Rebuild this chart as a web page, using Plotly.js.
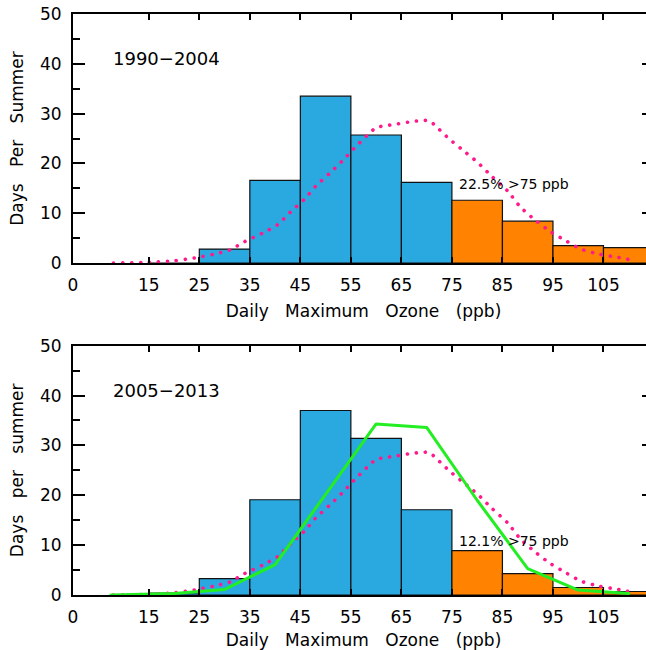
<!DOCTYPE html>
<html>
<head>
<meta charset="utf-8">
<script src="https://cdn.plot.ly/plotly-3.0.1.min.js"></script>
<style>
  html, body { margin: 0; padding: 0; overflow: hidden; background: #fff; }
  #chart { width: 654px; height: 650px; }
  text.xtitle, text.x2title, text.ytitle, text.y2title { word-spacing: 11px; }
  path.js-line { stroke-linecap: round; stroke-linejoin: round; }
</style>
</head>
<body>
<div id="chart"></div>
<script>
// ---- data ----
const binCenters = [20, 30, 40, 50, 60, 70, 80, 90, 100, 110];   // 10 ppb bins (15-25 ... 105-115)
const binWidth = 10;
const threshold = 75;
const days1990_2004 = [0, 2.8, 16.6, 33.5, 25.7, 16.2, 12.6, 8.4, 3.5, 3.1];
const days2005_2013 = [0.4, 3.3, 19.1, 37.0, 31.4, 17.1, 8.9, 4.3, 1.5, 0.7];

// dotted magenta reference curve (same in both panels)
const curveX = [8, 15, 20, 24, 28, 31, 34, 37.5, 40.5, 43, 46, 48, 51, 53.5, 56, 58.5, 60, 62, 63.5, 67, 69, 70.5, 72, 74.5, 77, 80, 83, 86, 88.5, 91.5, 94.5, 97.5, 100.5, 104, 108, 110];
const curveY = [0, 0.13, 0.45, 1.0, 1.8, 2.6, 4.3, 6.0, 7.7, 10.2, 13.0, 15.4, 18.2, 20.7, 23.4, 25.9, 27.2, 27.6, 27.8, 28.4, 28.6, 28.6, 27.3, 24.9, 22.8, 20.3, 17.3, 14.5, 11.3, 8.6, 6.3, 4.5, 2.8, 1.8, 1.1, 0.7];

// green line (bottom panel)
const greenX = [7.5, 20, 30, 40, 50, 60, 70, 80, 90, 100, 110];
const greenY = [0, 0.3, 1.1, 6.1, 20.2, 34.3, 33.6, 19.0, 5.3, 1.0, 0.3];

const xTickVals = [0, 15, 25, 35, 45, 55, 65, 75, 85, 95, 105];
const xTickText = ['0', '15', '25', '35', '45', '55', '65', '75', '85', '95', '105'];

const panels = [
  {label: '1990\u22122004', ytitle: 'Days Per Summer', pct: '22.5% >75 ppb', days: days1990_2004, green: false},
  {label: '2005\u22122013', ytitle: 'Days per summer', pct: '12.1% >75 ppb', days: days2005_2013, green: true}
];

// ---- styling ----
const FONT = 'DejaVu Sans, Arial, sans-serif';
const BLUE = '#2aa9e1';
const ORANGE = '#ff8200';
const PINK = '#ff1a8c';
const GREEN = '#22ee22';

const traces = [];
const annotations = [];
const layout = {
  width: 654, height: 650,
  margin: {l: 73, r: 0, t: 14, b: 55},
  paper_bgcolor: '#fff', plot_bgcolor: '#fff',
  showlegend: false,
  barmode: 'overlay',
  bargap: 0,
  font: {family: FONT, size: 17, color: '#000'},
  annotations: annotations
};

const domains = [[0.5714, 1], [0, 0.4291]];

panels.forEach((p, i) => {
  const xa = i === 0 ? 'x' : 'x2';
  const ya = i === 0 ? 'y' : 'y2';
  const blueX = [], blueY = [], orX = [], orY = [];
  binCenters.forEach((c, k) => {
    if (c - binWidth / 2 >= threshold) { orX.push(c); orY.push(p.days[k]); }
    else { blueX.push(c); blueY.push(p.days[k]); }
  });
  traces.push({type: 'bar', x: blueX, y: blueY, width: binWidth, xaxis: xa, yaxis: ya,
    marker: {color: BLUE, line: {color: '#111', width: 1.2}}, hoverinfo: 'skip'});
  traces.push({type: 'bar', x: orX, y: orY, width: binWidth, xaxis: xa, yaxis: ya,
    marker: {color: ORANGE, line: {color: '#111', width: 1.2}}, hoverinfo: 'skip'});
  traces.push({type: 'scatter', mode: 'lines', x: curveX, y: curveY, xaxis: xa, yaxis: ya,
    line: {color: PINK, width: 3.6, dash: '0.1px,8.9px', shape: 'spline', smoothing: 0.6}, hoverinfo: 'skip'});
  if (p.green) {
    traces.push({type: 'scatter', mode: 'lines', x: greenX, y: greenY, xaxis: xa, yaxis: ya,
      line: {color: GREEN, width: 3}, hoverinfo: 'skip'});
  }

  const xKey = i === 0 ? 'xaxis' : 'xaxis2';
  const yKey = i === 0 ? 'yaxis' : 'yaxis2';
  layout[xKey] = {
    domain: [0, 1], anchor: ya, range: [0, 115],
    tickmode: 'array', tickvals: xTickVals, ticktext: xTickText,
    ticks: 'inside', ticklen: 6, tickwidth: 2, tickcolor: '#000',
    showline: true, linewidth: 2, linecolor: '#000', mirror: 'ticks',
    showgrid: false, zeroline: false, fixedrange: true,
    tickfont: {family: FONT, size: 17, color: '#000'},
    ticklabelstandoff: 6,
    title: {text: 'Daily Maximum Ozone (ppb)', font: {family: FONT, size: 17, color: '#000'}, standoff: 11}
  };
  layout[yKey] = {
    domain: domains[i], anchor: xa, range: [0, 50],
    tickmode: 'linear', tick0: 0, dtick: 10,
    ticks: 'inside', ticklen: 12, tickwidth: 2, tickcolor: '#000',
    minor: {ticks: 'inside', ticklen: 7, tickwidth: 2, tickcolor: '#000', dtick: 5, tick0: 0, showgrid: false},
    showline: true, linewidth: 2, linecolor: '#000', mirror: 'ticks',
    showgrid: false, zeroline: false, fixedrange: true,
    tickfont: {family: FONT, size: 17, color: '#000'},
    ticklabelstandoff: 6,
    title: {text: p.ytitle, font: {family: FONT, size: 17, color: '#000'}, standoff: 12}
  };

  annotations.push({xref: xa, yref: ya, x: 7.5, y: 41, xanchor: 'left', yanchor: 'middle',
    text: p.label, showarrow: false, font: {family: FONT, size: 18, color: '#000'}});
  annotations.push({xref: xa, yref: ya, x: 76.0, y: i === 0 ? 15.8 : 10.8, xanchor: 'left', yanchor: 'middle',
    text: p.pct, showarrow: false, font: {family: FONT, size: 14, color: '#000'}});
});

Plotly.newPlot('chart', traces, layout, {staticPlot: true, displayModeBar: false});
</script>
</body>
</html>
